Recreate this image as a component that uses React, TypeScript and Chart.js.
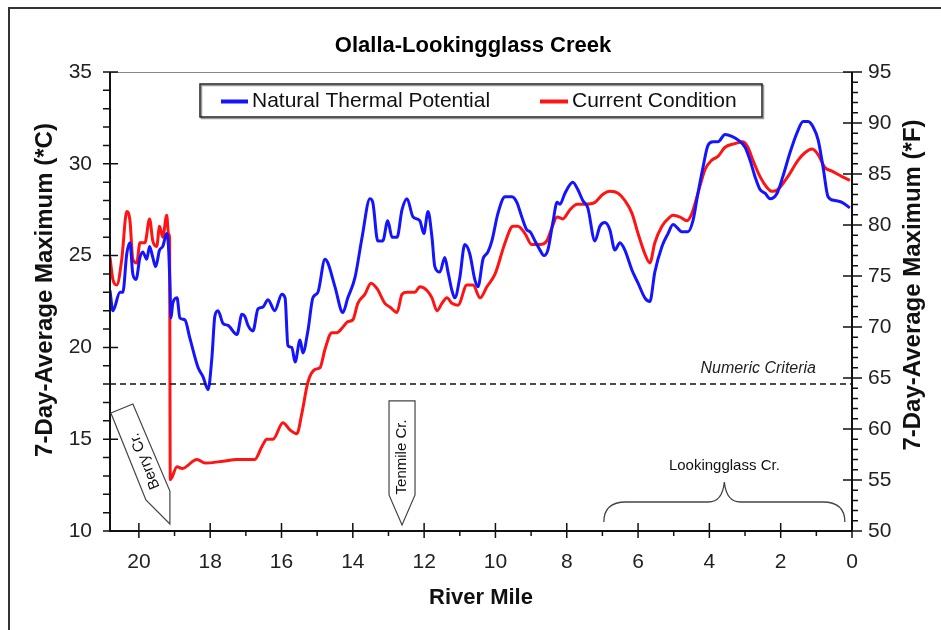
import React, { useEffect, useRef } from "react";
import { Chart, registerables } from "chart.js";

Chart.register(...registerables);

const CHART_TITLE = "Olalla-Lookingglass Creek";
const X_TITLE = "River Mile";
const Y_TITLE = "7-Day-Average Maximum (*C)";
const Y2_TITLE = "7-Day-Average Maximum (*F)";
const SERIES_NAMES = ["Natural Thermal Potential", "Current Condition"];
const CRITERIA_LABEL = "Numeric Criteria";
const CRITERIA_C = 18;

const X_MIN = 0;
const X_MAX = 20.81;
const Y_MIN = 10;
const Y_MAX = 35;
const Y2_MIN = 50;
const Y2_MAX = 95;
const X_TICKS = [0, 2, 4, 6, 8, 10, 12, 14, 16, 18, 20];
const Y_TICKS = [10, 15, 20, 25, 30, 35];
const Y2_TICKS = [50, 55, 60, 65, 70, 75, 80, 85, 90, 95];

const TRIB_BERRY = { name: "Berry Cr.", mile: 19.13, temp: 10.38 };
const TRIB_TENMILE = { name: "Tenmile Cr.", mile: 12.62, temp: 10.33 };
const TRIB_LOOKING = { name: "Lookingglass Cr.", from: 6.96, to: 0.2, temp: 10.49 };

const potentialMiles = [
  20.81, 20.73, 20.53, 20.45, 20.34, 20.25, 20.17, 20.08, 19.97, 19.89, 19.78, 19.7, 19.61, 19.53,
  19.42, 19.33, 19.22, 19.17, 19.13, 19.1, 19.05, 18.93, 18.85, 18.71, 18.57, 18.34, 18.2, 18.06,
  17.95, 17.87, 17.78, 17.64, 17.5, 17.25, 17.11, 17.03, 16.94, 16.8, 16.66, 16.52, 16.38, 16.19,
  15.99, 15.9, 15.82, 15.71, 15.62, 15.48, 15.4, 15.26, 15.12, 14.98, 14.78, 14.7, 14.5, 14.28,
  14.14, 13.94, 13.74, 13.52, 13.44, 13.3, 13.16, 13.02, 12.9, 12.76, 12.62, 12.48, 12.31, 12.12,
  12.01, 11.89, 11.78, 11.7, 11.56, 11.42, 11.33, 11.22, 11.14, 11.0, 10.86, 10.72, 10.58, 10.49,
  10.35, 10.21, 10.1, 9.93, 9.73, 9.54, 9.4, 9.26, 9.12, 9.03, 8.89, 8.75, 8.64, 8.53, 8.39, 8.27,
  8.19, 8.05, 7.83, 7.69, 7.55, 7.41, 7.21, 7.07, 6.93, 6.79, 6.65, 6.51, 6.37, 6.17, 6.0, 5.81,
  5.67, 5.53, 5.33, 5.16, 5.02, 4.77, 4.6, 4.46, 4.32, 4.18, 4.04, 3.9, 3.76, 3.56, 3.37, 3.2, 3.0,
  2.86, 2.72, 2.58, 2.44, 2.3, 2.1, 1.94, 1.74, 1.54, 1.37, 1.23, 1.09, 0.95, 0.81, 0.67, 0.48,
  0.28, 0.06,
];
const potentialTemps = [
  23.1, 22.0, 23.0, 23.0, 25.1, 25.7, 24.0, 23.7, 24.9, 25.2, 24.8, 25.5, 24.9, 24.4,
  25.3, 25.5, 26.2, 25.5, 23.5, 21.6, 22.4, 22.7, 21.6, 21.5, 20.5, 18.9, 18.4, 17.7,
  19.5, 21.7, 22.0, 21.3, 21.2, 20.7, 21.8, 21.7, 21.2, 20.9, 22.1, 22.2, 22.6, 22.0,
  22.9, 22.7, 20.1, 20.0, 19.2, 20.4, 19.7, 20.9, 22.7, 23.0, 24.8, 24.6, 23.3, 21.9,
  22.7, 23.8, 26.0, 28.1, 27.9, 25.8, 25.8, 26.9, 26.0, 26.0, 27.5, 28.1, 27.1, 26.9,
  26.2, 27.4, 26.0, 24.4, 24.1, 24.9, 24.1, 23.1, 22.7, 23.8, 25.6, 25.1, 23.7, 23.3,
  24.8, 25.2, 25.8, 27.3, 28.2, 28.2, 27.9, 27.1, 26.4, 26.3, 25.8, 25.3, 25.0, 25.3, 26.8, 27.9,
  27.8, 28.4, 29.0, 28.6, 28.0, 27.6, 25.8, 26.6, 26.8, 26.4, 25.3, 25.7, 25.3, 24.2, 23.5, 22.7,
  22.5, 24.1, 25.5, 26.2, 26.7, 26.3, 26.3, 26.9, 28.4, 29.8, 31.0, 31.2, 31.2, 31.6, 31.5, 31.3, 30.9,
  30.2, 29.3, 28.6, 28.4, 28.1, 28.4, 29.3, 30.6, 31.7, 32.3, 32.3, 32.0, 31.3, 29.8, 28.2, 28.0,
  27.9, 27.6,
];

const currentMiles = [
  20.81, 20.73, 20.62, 20.48, 20.34, 20.25, 20.17, 20.06, 19.97, 19.83, 19.7, 19.61, 19.5, 19.42,
  19.33, 19.22, 19.17, 19.14, 19.12, 18.93, 18.79, 18.37, 18.14, 17.64, 17.25, 16.75, 16.55, 16.41,
  16.24, 15.96, 15.76, 15.57, 15.43, 15.26, 15.06, 14.92, 14.78, 14.59, 14.45, 14.28, 14.14, 14.0,
  13.86, 13.66, 13.49, 13.32, 13.1, 12.96, 12.76, 12.62, 12.48, 12.26, 12.12, 11.92, 11.78, 11.64,
  11.5, 11.36, 11.22, 11.05, 10.8, 10.63, 10.43, 10.24, 10.01, 9.73, 9.51, 9.37, 9.17, 8.98, 8.75,
  8.56, 8.42, 8.27, 8.11, 7.91, 7.71, 7.49, 7.21, 7.01, 6.79, 6.56, 6.37, 6.17, 6.0, 5.81, 5.67,
  5.53, 5.33, 5.11, 5.02, 4.82, 4.63, 4.49, 4.32, 4.12, 3.93, 3.76, 3.56, 3.28, 3.06, 2.92, 2.78,
  2.58, 2.38, 2.24, 2.08, 1.8, 1.51, 1.32, 1.12, 0.95, 0.76, 0.56, 0.28, 0.06,
];
const currentTemps = [
  24.9, 23.7, 23.4, 24.8, 27.4, 26.9, 24.8, 24.6, 25.7, 25.7, 27.0, 25.8, 25.5, 26.6,
  26.0, 27.2, 26.2, 26.0, 12.8, 13.5, 13.4, 13.9, 13.7, 13.8, 13.9, 13.9, 14.6, 15.0,
  15.0, 15.9, 15.5, 15.3, 16.4, 18.1, 18.8, 18.9, 19.9, 20.8, 20.8, 21.1, 21.4, 21.5,
  22.4, 22.9, 23.5, 23.2, 22.4, 22.2, 21.9, 22.9, 23.0, 23.0, 23.3, 23.1, 22.7, 22.0,
  22.4, 22.7, 22.4, 22.3, 23.4, 23.4, 22.7, 23.3, 24.0, 25.7, 26.6, 26.6, 26.2, 25.6, 25.6,
  25.8, 26.5, 27.1, 27.0, 27.5, 27.8, 27.8, 27.9, 28.3, 28.5, 28.4, 28.0, 27.3, 26.2, 25.1, 24.6,
  25.7, 26.6, 27.1, 27.2, 27.1, 26.9, 27.3, 28.4, 29.7, 30.2, 30.4, 30.9, 31.1, 31.2, 30.9, 30.2,
  29.3, 28.7, 28.5, 28.6, 29.3, 30.2, 30.6, 30.8, 30.5, 29.8, 29.6, 29.3, 29.1,
];

const BLUE = "rgb(20,20,255)";
const RED = "rgb(255,20,20)";
const FONT = "'Liberation Sans', Arial, sans-serif";

const annotationPlugin = {
  id: "olallaDecor",
  afterDraw(chart: any) {
    const { ctx } = chart;
    const { left, right, top, bottom } = chart.chartArea;
    const x = chart.scales.x;
    const y = chart.scales.y;
    const y2 = chart.scales.y2;
    ctx.save();

    // figure frame
    ctx.strokeStyle = "#333";
    ctx.lineWidth = 2;
    ctx.beginPath();
    ctx.moveTo(9, 640);
    ctx.lineTo(9, 8);
    ctx.lineTo(950, 8);
    ctx.stroke();

    // title
    ctx.fillStyle = "#000";
    ctx.font = `bold 22px ${FONT}`;
    ctx.textAlign = "center";
    ctx.textBaseline = "alphabetic";
    ctx.fillText(CHART_TITLE, (left + right) / 2 - 8, 52);

    // top border of plot
    ctx.strokeStyle = "#888";
    ctx.lineWidth = 1;
    ctx.beginPath();
    ctx.moveTo(left, top + 0.5);
    ctx.lineTo(right, top + 0.5);
    ctx.stroke();

    // axes lines
    ctx.strokeStyle = "#111";
    ctx.lineWidth = 2;
    ctx.beginPath();
    ctx.moveTo(left, top);
    ctx.lineTo(left, bottom);
    ctx.lineTo(right, bottom);
    ctx.lineTo(right, top);
    ctx.stroke();

    // ticks
    ctx.lineWidth = 1.5;
    ctx.beginPath();
    for (let v = Y_MIN; v <= Y_MAX; v++) {
      const py = y.getPixelForValue(v);
      const major = Y_TICKS.includes(v);
      ctx.moveTo(left - 7, py);
      ctx.lineTo(major ? left + 8 : left, py);
    }
    for (let v = Y2_MIN; v <= Y2_MAX; v++) {
      const py = y2.getPixelForValue(v);
      const major = Y2_TICKS.includes(v);
      ctx.moveTo(major ? right - 9 : right, py);
      ctx.lineTo(right + (major ? 10 : 6), py);
    }
    for (let v = 0; v <= 20; v++) {
      const px = x.getPixelForValue(v);
      const major = X_TICKS.includes(v);
      ctx.moveTo(px, major ? bottom - 8 : bottom);
      ctx.lineTo(px, bottom + (major ? 7 : 5));
    }
    ctx.stroke();

    // tick labels
    ctx.fillStyle = "#222";
    ctx.font = `21px ${FONT}`;
    ctx.textBaseline = "middle";
    ctx.textAlign = "right";
    Y_TICKS.forEach((v) => ctx.fillText(String(v), left - 18, y.getPixelForValue(v)));
    ctx.textAlign = "left";
    Y2_TICKS.forEach((v) => ctx.fillText(String(v), right + 16, y2.getPixelForValue(v)));
    ctx.textAlign = "center";
    X_TICKS.forEach((v) => ctx.fillText(String(v), x.getPixelForValue(v), bottom + 31));

    // axis titles
    ctx.fillStyle = "#111";
    ctx.font = `bold 22px ${FONT}`;
    ctx.textAlign = "center";
    ctx.textBaseline = "middle";
    ctx.fillText(X_TITLE, (left + right) / 2, bottom + 67);
    ctx.font = `bold 24px ${FONT}`;
    ctx.save();
    ctx.translate(45, 290);
    ctx.rotate(-Math.PI / 2);
    ctx.fillText(Y_TITLE, 0, 0);
    ctx.restore();
    ctx.save();
    ctx.translate(913, 285);
    ctx.rotate(-Math.PI / 2);
    ctx.fillText(Y2_TITLE, 0, 0);
    ctx.restore();

    // criteria line
    const cy = y.getPixelForValue(CRITERIA_C);
    ctx.strokeStyle = "#111";
    ctx.lineWidth = 1.5;
    ctx.setLineDash([6, 4]);
    ctx.beginPath();
    ctx.moveTo(left, cy);
    ctx.lineTo(right, cy);
    ctx.stroke();
    ctx.setLineDash([]);
    ctx.font = `italic 16px ${FONT}`;
    ctx.textAlign = "right";
    ctx.textBaseline = "alphabetic";
    ctx.fillStyle = "#222";
    ctx.fillText(CRITERIA_LABEL, right - 36, cy - 11);

    // Berry Cr. callout
    {
      const tx = x.getPixelForValue(TRIB_BERRY.mile);
      const ty = y.getPixelForValue(TRIB_BERRY.temp);
      ctx.strokeStyle = "#444";
      ctx.lineWidth = 1.2;
      ctx.fillStyle = "#fff";
      ctx.beginPath();
      ctx.moveTo(tx - 59, ty - 111);
      ctx.lineTo(tx - 37, ty - 120);
      ctx.lineTo(tx, ty - 33);
      ctx.lineTo(tx, ty);
      ctx.lineTo(tx - 24, ty - 24);
      ctx.closePath();
      ctx.fill();
      ctx.stroke();
      ctx.save();
      ctx.translate(tx - 25, ty - 63);
      ctx.rotate((-112 * Math.PI) / 180);
      ctx.fillStyle = "#111";
      ctx.font = `15px ${FONT}`;
      ctx.textAlign = "center";
      ctx.textBaseline = "middle";
      ctx.fillText(TRIB_BERRY.name, 0, 0);
      ctx.restore();
    }

    // Tenmile Cr. callout
    {
      const tx = x.getPixelForValue(TRIB_TENMILE.mile);
      const ty = y.getPixelForValue(TRIB_TENMILE.temp);
      ctx.strokeStyle = "#444";
      ctx.lineWidth = 1.2;
      ctx.fillStyle = "#fff";
      ctx.beginPath();
      ctx.moveTo(tx - 13, ty - 124);
      ctx.lineTo(tx + 13, ty - 124);
      ctx.lineTo(tx + 13, ty - 30);
      ctx.lineTo(tx, ty);
      ctx.lineTo(tx - 13, ty - 30);
      ctx.closePath();
      ctx.fill();
      ctx.stroke();
      ctx.save();
      ctx.translate(tx, ty - 68);
      ctx.rotate(-Math.PI / 2);
      ctx.fillStyle = "#111";
      ctx.font = `15px ${FONT}`;
      ctx.textAlign = "center";
      ctx.textBaseline = "middle";
      ctx.fillText(TRIB_TENMILE.name, 0, 0);
      ctx.restore();
    }

    // Lookingglass brace
    {
      const x1 = x.getPixelForValue(TRIB_LOOKING.from);
      const x2 = x.getPixelForValue(TRIB_LOOKING.to);
      const yb = y.getPixelForValue(TRIB_LOOKING.temp);
      const xc = (x1 + x2) / 2;
      const yh = yb - 20;
      const yp = yb - 40;
      ctx.strokeStyle = "#444";
      ctx.lineWidth = 1.3;
      ctx.beginPath();
      ctx.moveTo(x1, yb);
      ctx.quadraticCurveTo(x1, yh, x1 + 22, yh);
      ctx.lineTo(xc - 16, yh);
      ctx.quadraticCurveTo(xc - 2, yh, xc, yp);
      ctx.quadraticCurveTo(xc + 2, yh, xc + 16, yh);
      ctx.lineTo(x2 - 22, yh);
      ctx.quadraticCurveTo(x2, yh, x2, yb);
      ctx.stroke();
      ctx.fillStyle = "#111";
      ctx.font = `15px ${FONT}`;
      ctx.textAlign = "center";
      ctx.textBaseline = "middle";
      ctx.fillText(TRIB_LOOKING.name, xc, yp - 16);
    }

    // legend
    {
      const lx = left + 90;
      const ly = top + 12;
      const lw = 562;
      const lh = 33;
      ctx.fillStyle = "#fff";
      ctx.fillRect(lx, ly, lw, lh);
      ctx.strokeStyle = "#999";
      ctx.lineWidth = 1.5;
      ctx.strokeRect(lx + 1.5, ly + 1.5, lw, lh);
      ctx.strokeStyle = "#222";
      ctx.lineWidth = 1.5;
      ctx.strokeRect(lx, ly, lw, lh);
      const my = ly + lh / 2 + 1;
      ctx.lineWidth = 4;
      ctx.strokeStyle = BLUE;
      ctx.beginPath();
      ctx.moveTo(lx + 21, my);
      ctx.lineTo(lx + 48, my);
      ctx.stroke();
      ctx.strokeStyle = RED;
      ctx.beginPath();
      ctx.moveTo(lx + 340, my);
      ctx.lineTo(lx + 368, my);
      ctx.stroke();
      ctx.fillStyle = "#111";
      ctx.font = `21px ${FONT}`;
      ctx.textAlign = "left";
      ctx.textBaseline = "middle";
      ctx.fillText(SERIES_NAMES[0], lx + 52, my);
      ctx.fillText(SERIES_NAMES[1], lx + 372, my);
    }

    ctx.restore();
  },
};

export default function App() {
  const ref = useRef<HTMLCanvasElement | null>(null);
  useEffect(() => {
    if (!ref.current) return;
    const toPts = (xs: number[], ys: number[]) => xs.map((m, i) => ({ x: m, y: ys[i] }));
    const chart = new Chart(ref.current, {
      type: "line",
      data: {
        datasets: [
          {
            label: SERIES_NAMES[0],
            data: toPts(potentialMiles, potentialTemps),
            borderColor: BLUE,
            borderWidth: 3,
            pointRadius: 0,
            cubicInterpolationMode: "monotone",
            yAxisID: "y",
          },
          {
            label: SERIES_NAMES[1],
            data: toPts(currentMiles, currentTemps),
            borderColor: RED,
            borderWidth: 3,
            pointRadius: 0,
            cubicInterpolationMode: "monotone",
            yAxisID: "y",
          },
        ],
      },
      options: {
        animation: false,
        responsive: false,
        devicePixelRatio: 1,
        layout: { padding: { top: 72, left: 0, right: 0, bottom: 0 } },
        plugins: { legend: { display: false }, title: { display: false }, tooltip: { enabled: false } },
        events: [],
        scales: {
          x: {
            type: "linear",
            reverse: true,
            min: X_MIN,
            max: X_MAX,
            ticks: { display: false },
            grid: { display: false },
            border: { display: false },
            afterFit: (s: any) => {
              s.height = 99;
            },
          },
          y: {
            type: "linear",
            position: "left",
            min: Y_MIN,
            max: Y_MAX,
            ticks: { display: false },
            grid: { display: false },
            border: { display: false },
            afterFit: (s: any) => {
              s.width = 110;
            },
          },
          y2: {
            type: "linear",
            position: "right",
            min: Y2_MIN,
            max: Y2_MAX,
            ticks: { display: false },
            grid: { display: false },
            border: { display: false },
            afterFit: (s: any) => {
              s.width = 89;
            },
          },
        },
      },
      plugins: [annotationPlugin],
    } as any);
    return () => chart.destroy();
  }, []);
  return (
    <div style={{ position: "fixed", left: 0, top: 0, width: 941, height: 630, background: "#fff" }}>
      <canvas ref={ref} width={941} height={630} />
    </div>
  );
}
